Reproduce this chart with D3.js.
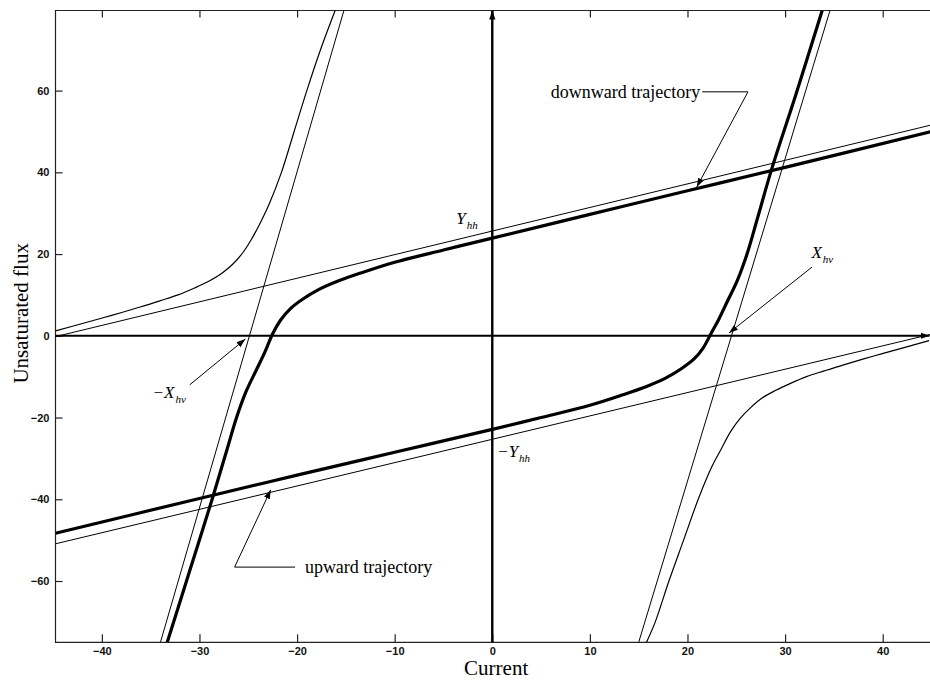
<!DOCTYPE html>
<html>
<head>
<meta charset="utf-8">
<script src="https://cdn.jsdelivr.net/npm/d3@7"></script>
<style>
	body { margin: 0; background: #fff; }
	svg { display: block; }
</style>
</head>
<body>
<div id="chart"></div>
<script>
const xTicks = [-40, -30, -20, -10, 0, 10, 20, 30, 40];
const yTicks = [-60, -40, -20, 0, 20, 40, 60];

// asymptotes (thin straight lines)
const shallowUpper = [[-44.75, -0.2], [45, 51.6]];
const shallowLower = [[-44.75, -50.9], [45, 0.4]];
const steepLeft = [[-34.0, -75], [-15.2, 79.6]];
const steepRight = [[15.0, -75], [34.6, 79.6]];

// thick trajectories
const downward = [[-33.3, -75], [-31.0, -57.5], [-28.7, -40], [-27.2, -28], [-26.2, -20], [-25.2, -13.5],
	[-24.2, -8.5], [-23.3, -4.0], [-22.5, 0.5], [-21.7, 3.8], [-20.7, 6.6], [-19.4, 9.0], [-17.8, 11.3],
	[-15.8, 13.4], [-13.3, 15.5], [-10, 18.0], [-5, 21.0], [0, 23.9], [10, 29.7], [20, 35.5], [30, 41.2], [45, 50.0]];
const upward = [[-44.75, -48.3], [-30, -39.8], [-20, -34.1], [-10, -28.5], [0, -22.9], [5, -20.0],
	[10, -17.0], [13.3, -14.5], [15.8, -12.4], [17.8, -10.3], [19.4, -8.0], [20.7, -5.6], [21.6, -3.0],
	[22.4, 0.5], [23.2, 4.0], [24.1, 8.5], [25.1, 13.5], [26.1, 20], [27.2, 29], [28.6, 40.6], [31.1, 59], [33.8, 79.6]];

// thin outer branches
const branchLeft = [[-44.75, 1.2], [-42, 3.0], [-39, 5.0], [-36, 7.1], [-34, 8.6], [-32.2, 10.0],
	[-30.5, 11.7], [-29, 13.4], [-27.7, 15.3], [-26.6, 17.5], [-25.6, 20.2], [-24.7, 23.5], [-23.8, 27.5],
	[-22.9, 32], [-21.6, 40], [-20.3, 50], [-19.0, 60], [-17.6, 70], [-16.1, 79.6]];
const branchRight = [[15.8, -75], [16.7, -70], [18.1, -60], [19.6, -50], [21.1, -40], [22.5, -32],
	[23.5, -27.5], [24.4, -23.5], [25.4, -20.2], [26.5, -17.5], [27.6, -15.3], [29, -13.4], [30.5, -11.7],
	[32.2, -10.0], [34, -8.6], [36, -7.1], [39, -5.0], [42, -3.0], [44.75, -1.2]];

const width = 930, height = 681;
const svg = d3.select('#chart').append('svg').attr('width', width).attr('height', height);

const x = d3.scaleLinear().domain([-44.75, 45]).range([55.5, 931.5]);
const y = d3.scaleLinear().domain([-75, 79.6]).range([642.3, 10.5]);

const defs = svg.append('defs');
defs.append('clipPath').attr('id', 'clip')
	.append('rect')
	.attr('x', x(-44.75)).attr('y', y(79.6))
	.attr('width', x(45) - x(-44.75)).attr('height', y(-75) - y(79.6));
defs.append('marker')
	.attr('id', 'head')
	.attr('viewBox', '0 0 10 10')
	.attr('refX', 10).attr('refY', 5)
	.attr('markerWidth', 9).attr('markerHeight', 9)
	.attr('markerUnits', 'userSpaceOnUse')
	.attr('orient', 'auto')
	.append('path').attr('d', 'M0,1.5L10,5L0,8.5Z').attr('fill', '#000');

const font = '"Liberation Sans", Arial, sans-serif';
const serif = '"Liberation Serif", "Times New Roman", serif';

// frame + inward ticks
const frame = svg.append('g').attr('stroke', '#222').attr('stroke-width', 1.2).attr('fill', 'none');
frame.append('path').attr('d', `M${x(45)},${y(79.6)}H${x(-44.75)}V${y(-75)}H${x(45)}`);

const xAxis = svg.append('g').attr('transform', `translate(0,${y(-75)})`)
	.call(d3.axisBottom(x).tickValues(xTicks).tickSizeInner(-8).tickSizeOuter(0).tickPadding(5).tickFormat(d3.format('d')));
const xTop = svg.append('g').attr('transform', `translate(0,${y(79.6)})`)
	.call(d3.axisTop(x).tickValues(xTicks).tickSizeInner(-7).tickSizeOuter(0).tickFormat(''));
const yAxis = svg.append('g').attr('transform', `translate(${x(-44.75)},0)`)
	.call(d3.axisLeft(y).tickValues(yTicks).tickSizeInner(-7).tickSizeOuter(0).tickPadding(6).tickFormat(d3.format('d')));
[xAxis, xTop, yAxis].forEach(a => {
	a.select('.domain').remove();
	a.selectAll('line').attr('stroke', '#222').attr('stroke-width', 1.2);
	a.selectAll('text').attr('font-family', font).attr('font-size', 11).attr('font-weight', 'bold').attr('fill', '#111');
});

const plot = svg.append('g').attr('clip-path', 'url(#clip)');
const straight = d3.line().x(d => x(d[0])).y(d => y(d[1]));
const smooth = d3.line().x(d => x(d[0])).y(d => y(d[1])).curve(d3.curveCatmullRom.alpha(0.5));

[shallowUpper, shallowLower, steepLeft, steepRight].forEach(d => {
	plot.append('path').attr('d', straight(d)).attr('fill', 'none').attr('stroke', '#000').attr('stroke-width', 1);
});
[branchLeft, branchRight].forEach(d => {
	plot.append('path').attr('d', smooth(d)).attr('fill', 'none').attr('stroke', '#000').attr('stroke-width', 1.2);
});
[downward, upward].forEach(d => {
	plot.append('path').attr('d', smooth(d)).attr('fill', 'none').attr('stroke', '#000').attr('stroke-width', 3.2);
});

// coordinate axes with arrows
svg.append('line')
	.attr('x1', x(-44.75)).attr('y1', y(0)).attr('x2', x(45) - 2).attr('y2', y(0))
	.attr('stroke', '#000').attr('stroke-width', 2).attr('marker-end', 'url(#head)');
svg.append('line')
	.attr('x1', x(0)).attr('y1', y(-75)).attr('x2', x(0)).attr('y2', y(79.6))
	.attr('stroke', '#000').attr('stroke-width', 2.4).attr('marker-end', 'url(#head)');

// annotations (data coordinates)
const leader = (pts) => {
	svg.append('path').attr('d', straight(pts)).attr('fill', 'none')
		.attr('stroke', '#000').attr('stroke-width', 1).attr('marker-end', 'url(#head)');
};
leader([[21.5, 59.7], [26.2, 59.7], [20.95, 36.4]]);
leader([[-20.2, -56.6], [-26.4, -56.6], [-22.7, -37.7]]);
leader([[32.75, 16.8], [24.25, 0.7]]);
leader([[-31.0, -12.0], [-25.3, -0.8]]);

svg.append('text').attr('x', x(21.3)).attr('y', y(59.7)).attr('dy', '0.35em')
	.attr('text-anchor', 'end').attr('font-family', serif).attr('font-size', 18)
	.text('downward trajectory');
svg.append('text').attr('x', x(-19.2)).attr('y', y(-56.6)).attr('dy', '0.35em')
	.attr('font-family', serif).attr('font-size', 18)
	.text('upward trajectory');

const symbol = (px, py, main, sub, anchor) => {
	const t = svg.append('text').attr('x', x(px)).attr('y', y(py))
		.attr('font-family', serif).attr('font-size', 17).attr('font-style', 'italic')
		.attr('text-anchor', anchor || 'start');
	t.append('tspan').text(main);
	t.append('tspan').attr('font-size', 11).attr('dy', 5).attr('dx', 1).text(sub);
};
symbol(-3.7, 27.4, 'Y', 'hh');
symbol(0.5, -29.6, '\u2212Y', 'hh');
symbol(32.7, 19.0, 'X', 'hv');
symbol(-31.4, -15.2, '\u2212X', 'hv', 'end');

// axis titles
svg.append('text').attr('x', x(0.4)).attr('y', 675)
	.attr('text-anchor', 'middle').attr('font-family', serif).attr('font-size', 21)
	.text('Current');
svg.append('text').attr('transform', `translate(28,${y(5.5)}) rotate(-90)`)
	.attr('text-anchor', 'middle').attr('font-family', serif).attr('font-size', 21)
	.text('Unsaturated flux');
</script>
</body>
</html>
